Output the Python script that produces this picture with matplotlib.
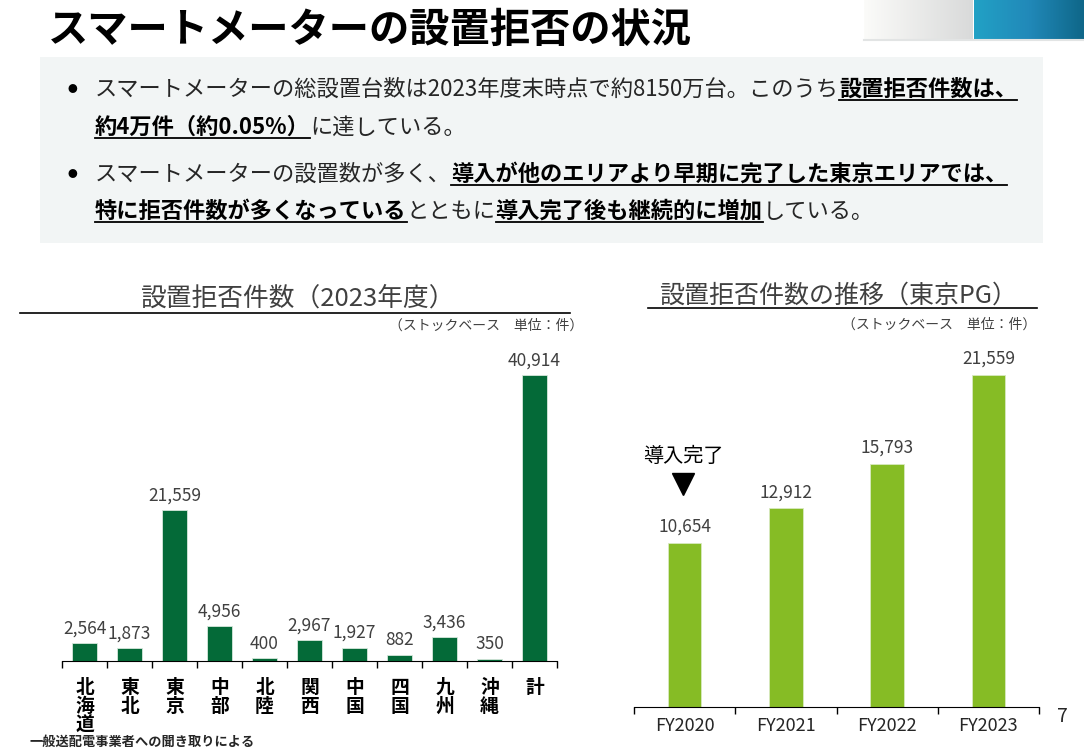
import numpy as np
import matplotlib
matplotlib.use("Agg")
import matplotlib.pyplot as plt
from matplotlib.lines import Line2D
from matplotlib.patches import Rectangle

plt.rcParams['font.family'] = ['Noto Sans CJK JP', 'DejaVu Sans']

# data
regions = ['北海道', '東北', '東京', '中部', '北陸', '関西', '中国', '四国', '九州', '沖縄', '計']
refusals_2023 = [2564, 1873, 21559, 4956, 400, 2967, 1927, 882, 3436, 350, 40914]
years = ['FY2020', 'FY2021', 'FY2022', 'FY2023']
tokyo_refusals = [10654, 12912, 15793, 21559]

W, H = 1084, 750
fig = plt.figure(figsize=(W / 100, H / 100), dpi=100)


def fx(x):
    return x / W


def fy(y):
    return 1 - y / H


# header decoration
g1 = fig.add_axes([fx(864), fy(39), (973 - 864) / W, 39 / H])
g1.imshow(np.linspace(0, 1, 100)[None, :], aspect='auto', cmap=matplotlib.colors.LinearSegmentedColormap.from_list('g', ['#fbfbf9', '#d9dada']))
g1.axis('off')
g2 = fig.add_axes([fx(974), fy(39), (1084 - 974) / W, 39 / H])
g2.imshow(np.linspace(0, 1, 100)[None, :], aspect='auto', cmap=matplotlib.colors.LinearSegmentedColormap.from_list('b', ['#22a1c5', '#2189b9', '#0f6789']))
g2.axis('off')
fig.add_artist(Line2D([fx(864), 1], [fy(40), fy(40)], color='#e2e4e4', lw=1.5))

fig.text(fx(48), fy(30), 'スマートメーターの設置拒否の状況', fontsize=29, fontweight='bold', va='center', ha='left', color='black')

# summary box
fig.add_artist(Rectangle((fx(40), fy(243)), (1043 - 40) / W, (243 - 57) / H, transform=fig.transFigure,
                         facecolor='#f2f5f5', edgecolor='none', zorder=0))

renderer = fig.canvas.get_renderer()


def rich_line(x, y, parts, size=16):
    for s, bold, under in parts:
        t = fig.text(fx(x), fy(y), s, fontsize=size, fontweight='bold' if bold else 'normal',
                     color='black' if bold else '#262626', va='baseline', ha='left')
        bb = t.get_window_extent(renderer)
        x1 = bb.x1
        if under:
            fig.add_artist(Line2D([fx(x), fx(x1)], [fy(y + 4), fy(y + 4)], color='black', lw=1.3))
        x = x1


fig.text(fx(72), fy(89), '●', fontsize=7, va='center', ha='center', color='black')
fig.text(fx(72), fy(174), '●', fontsize=7, va='center', ha='center', color='black')
rich_line(95, 96, [('スマートメーターの総設置台数は2023年度末時点で約8150万台。このうち', False, False),
                   ('設置拒否件数は、', True, True)])
rich_line(95, 134, [('約4万件（約0.05%）', True, True), ('に達している。', False, False)])
rich_line(95, 181, [('スマートメーターの設置数が多く、', False, False),
                    ('導入が他のエリアより早期に完了した東京エリアでは、', True, True)])
rich_line(95, 218, [('特に拒否件数が多くなっている', True, True), ('とともに', False, False),
                    ('導入完了後も継続的に増加', True, True), ('している。', False, False)])

# left chart
fig.text(fx(297), fy(299), '設置拒否件数（2023年度）', fontsize=18.5, ha='center', va='center', color='#404040')
fig.add_artist(Line2D([fx(20), fx(570)], [fy(313), fy(313)], color='black', lw=1.2))
fig.text(fx(583), fy(326), '（ストックベース　単位：件）', fontsize=10, ha='right', va='center', color='#404040')

ax1 = fig.add_axes([fx(62), fy(661), (557 - 62) / W, (661 - 345) / H])
x1 = np.arange(len(regions))
ax1.bar(x1, refusals_2023, width=0.56, color='#046a38', edgecolor='#d6e8dc', linewidth=0.6)
for xi, v in zip(x1, refusals_2023):
    ax1.annotate(f'{v:,}', (xi, v), xytext=(0, 4), textcoords='offset points', ha='center', va='bottom',
                 fontsize=12.5, color='#404040')
ax1.set_xlim(-0.5, len(regions) - 0.5)
ax1.set_ylim(0, 316 / 0.00699)
ax1.set_xticks(np.arange(len(regions) + 1) - 0.5)
ax1.set_xticklabels([])
ax1.set_xticks(x1, ['\n'.join(r) for r in regions], minor=True)
ax1.tick_params(axis='x', which='major', length=5, width=1, direction='out', color='black')
ax1.tick_params(axis='x', which='minor', length=0, pad=12, labelsize=13.5)
for lab in ax1.get_xticklabels(minor=True):
    lab.set_fontweight('bold')
    lab.set_linespacing(1.0)
    lab.set_verticalalignment('top')
ax1.set_yticks([])
for s in ['top', 'right', 'left']:
    ax1.spines[s].set_visible(False)
ax1.spines['bottom'].set_color('black')

fig.text(fx(30), fy(742), '一般送配電事業者への聞き取りによる', fontsize=9.5, fontweight='bold', ha='left', va='center', color='#262626')

# right chart
fig.text(fx(838), fy(296), '設置拒否件数の推移（東京PG）', fontsize=18, ha='center', va='center', color='#404040')
fig.add_artist(Line2D([fx(648), fx(1037)], [fy(308), fy(308)], color='black', lw=1.2))
fig.text(fx(1036), fy(325), '（ストックベース　単位：件）', fontsize=10, ha='right', va='center', color='#404040')

ax2 = fig.add_axes([fx(634), fy(707), (1039 - 634) / W, (707 - 345) / H])
x2 = np.arange(len(years))
ax2.bar(x2, tokyo_refusals, width=0.33, color='#86bc25', edgecolor='#d8eac0', linewidth=0.6)
for xi, v in zip(x2, tokyo_refusals):
    ax2.annotate(f'{v:,}', (xi, v), xytext=(0, 5), textcoords='offset points', ha='center', va='bottom',
                 fontsize=12.5, color='#404040')
ax2.set_xlim(-0.5, len(years) - 0.5)
ax2.set_ylim(0, 362 / 0.0154)
ax2.set_xticks(np.arange(len(years) + 1) - 0.5)
ax2.set_xticklabels([])
ax2.set_xticks(x2, years, minor=True)
ax2.tick_params(axis='x', which='major', length=5, width=1, direction='out', color='black')
ax2.tick_params(axis='x', which='minor', length=0, pad=7, labelsize=13, labelcolor='#262626')
ax2.set_yticks([])
for s in ['top', 'right', 'left']:
    ax2.spines[s].set_visible(False)

fig.text(fx(683), fy(457), '導入完了', fontsize=14.5, ha='center', va='center', color='black')
fig.add_artist(Line2D([fx(683)], [fy(484)], marker='v', markersize=16, color='black', linestyle='none'))

fig.text(fx(1062), fy(716), '7', fontsize=14, ha='center', va='center', color='#262626')

fig.savefig('out.png', dpi=100)
